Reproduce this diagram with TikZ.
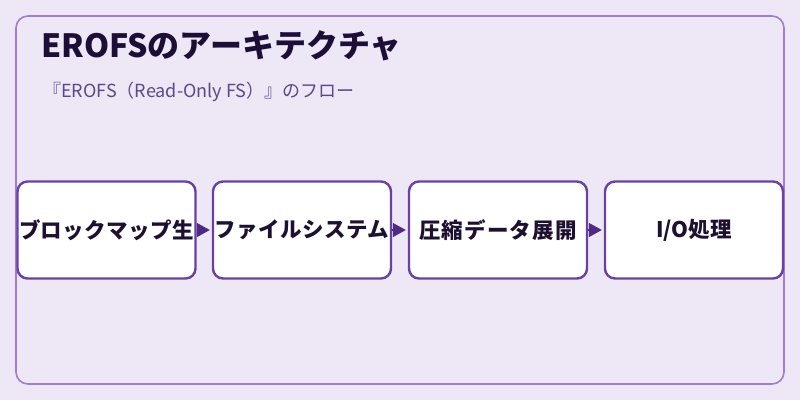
\documentclass[tikz,border=0pt]{standalone}
\usepackage{fontspec}
\setmainfont{Noto Sans CJK JP}
\usetikzlibrary{arrows.meta}
\definecolor{bgc}{HTML}{EEE7F6}
\definecolor{framec}{HTML}{A07DD2}
\definecolor{boxc}{HTML}{6B40A3}
\definecolor{arrc}{HTML}{4E2A86}
\definecolor{titlec}{HTML}{1C0E36}
\definecolor{subc}{HTML}{5A4A86}
\definecolor{txtc}{HTML}{1E1030}
\newcommand{\spreadtext}[2]{\makebox[#1][s]{#2}}
\tikzset{
  stagebox/.style={draw=boxc, line width=2.4pt, fill=white, rounded corners=10pt,
    minimum width=178pt, minimum height=97pt, inner sep=0pt, text=txtc,
    font=\fontsize{21.5pt}{24pt}\selectfont\bfseries},
  flowarrow/.style={draw=arrc, line width=1.5pt, shorten >=2pt,
    -{Triangle[length=13pt,width=14pt]}, arrc}
}
\begin{document}
\begin{tikzpicture}[x=1pt,y=-1pt]
\useasboundingbox[fill=bgc] (0,0) rectangle (800,400);
\draw[framec, line width=1.6pt, rounded corners=12pt] (16,16) rectangle (784,384);
\node[anchor=base west, inner sep=0pt, text=titlec, font=\fontsize{32pt}{37pt}\selectfont\bfseries] (title) at (41,57) {EROFSのアーキテクチャ};
\node[anchor=base west, inner sep=0pt, text=subc, font=\fontsize{18pt}{21pt}\selectfont] (sub) at (43,97) {『EROFS（Read-Only FS）』のフロー};
\node[stagebox] (b1) at (106.5,230) {\spreadtext{175pt}{ブ\hfil ロ\hfil ッ\hfil ク\hfil マ\hfil ッ\hfil プ\hfil 生}};
\node[stagebox] (b2) at (302,230) {\spreadtext{175pt}{フ\hfil ァ\hfil イ\hfil ル\hfil シ\hfil ス\hfil テ\hfil ム}};
\node[stagebox] (b3) at (498,230) {\spreadtext{158pt}{圧\hfil 縮\hfil デ\hfil ー\hfil タ\hfil 展\hfil 開}};
\node[stagebox] (b4) at (694,230) {I/O処理};
\draw[flowarrow] (b1) -- (b2);
\draw[flowarrow] (b2) -- (b3);
\draw[flowarrow] (b3) -- (b4);
\end{tikzpicture}
\end{document}
